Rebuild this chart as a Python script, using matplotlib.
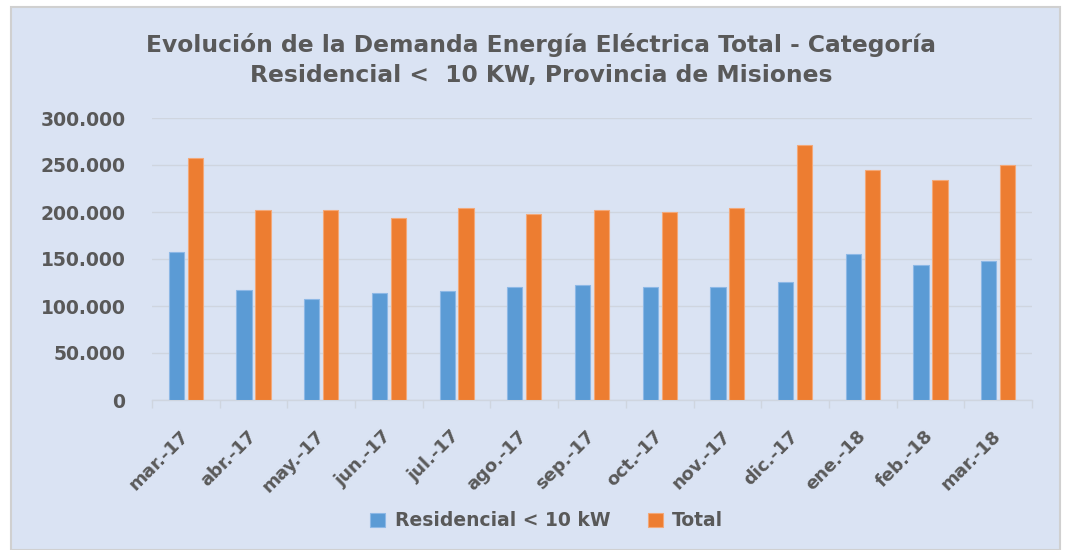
import matplotlib.pyplot as plt
from matplotlib.patches import Rectangle
from matplotlib.ticker import FuncFormatter
import numpy as np

meses = ["mar.-17", "abr.-17", "may.-17", "jun.-17", "jul.-17", "ago.-17", "sep.-17",
         "oct.-17", "nov.-17", "dic.-17", "ene.-18", "feb.-18", "mar.-18"]
residencial = [157200, 117300, 107000, 113800, 116000, 119800, 122300,
               119800, 119800, 125400, 155000, 143400, 148300]
total = [257500, 202600, 202600, 193400, 204000, 198400, 202600,
         199500, 204000, 271300, 245000, 233600, 250500]

titulo = "Evolución de la Demanda Energía Eléctrica Total - Categoría\nResidencial <  10 KW, Provincia de Misiones"
serie_nombres = ["Residencial < 10 kW", "Total"]

azul = "#5B9BD5"
naranja = "#ED7D31"
fondo = "#DAE3F3"
gris = "#595959"
lineas = "#CFD5DF"

fig = plt.figure(figsize=(10.72, 5.5), dpi=100)
fig.patch.set_facecolor("white")
fondo_rect = Rectangle((11 / 1072, 0), (1060 - 11) / 1072, 1 - 7 / 550,
                       transform=fig.transFigure, facecolor=fondo,
                       edgecolor="#D0D0D0", linewidth=1.5, zorder=-1)
fig.patches.append(fondo_rect)

ax = fig.add_axes([152 / 1072, 1 - 400 / 550, 880 / 1072, 282 / 550])
ax.set_facecolor(fondo)

x = np.arange(len(meses))
w = 0.225
ax.bar(x - 0.14, residencial, w, color=azul, edgecolor="#8DB8E6", linewidth=0.8,
       label=serie_nombres[0], zorder=3)
ax.bar(x + 0.14, total, w, color=naranja, edgecolor="#F3A878", linewidth=0.8,
       label=serie_nombres[1], zorder=3)

ax.set_xlim(-0.5, len(meses) - 0.5)
ax.set_ylim(0, 300000)
ax.set_yticks(np.arange(0, 300001, 50000))
ax.yaxis.set_major_formatter(FuncFormatter(lambda v, p: f"{int(v):,}".replace(",", ".")))
ax.grid(axis="y", color=lineas, linewidth=1, zorder=0)

for s in ["top", "right", "left"]:
    ax.spines[s].set_visible(False)
ax.spines["bottom"].set_color(lineas)
ax.spines["bottom"].set_linewidth(1)

ax.set_xticks(x)
ax.set_xticklabels(meses, rotation=45, ha="right", va="center", rotation_mode="anchor",
                   fontsize=13, fontweight="bold", color=gris)
ax.tick_params(axis="x", which="major", length=0, pad=24)
ax.set_xticks(np.arange(-0.5, len(meses), 1), minor=True)
ax.tick_params(axis="x", which="minor", length=6, color=lineas, width=1)
ax.tick_params(axis="y", length=0, pad=19, labelsize=13.5, labelcolor=gris)
for t in ax.get_yticklabels():
    t.set_fontweight("bold")

fig.text(0.505, 1 - 60 / 550, titulo, ha="center", va="center", fontsize=16.8,
         fontweight="bold", color=gris, linespacing=1.4)

leg = fig.legend(loc="center", bbox_to_anchor=(0.51, 1 - 521 / 550), ncol=2,
                 frameon=False, fontsize=13.5, handlelength=0.8, handleheight=0.8,
                 columnspacing=2.0, handletextpad=0.5)
for t in leg.get_texts():
    t.set_color(gris)
    t.set_fontweight("bold")

fig.savefig("out.png", dpi=100, facecolor=fig.get_facecolor())
